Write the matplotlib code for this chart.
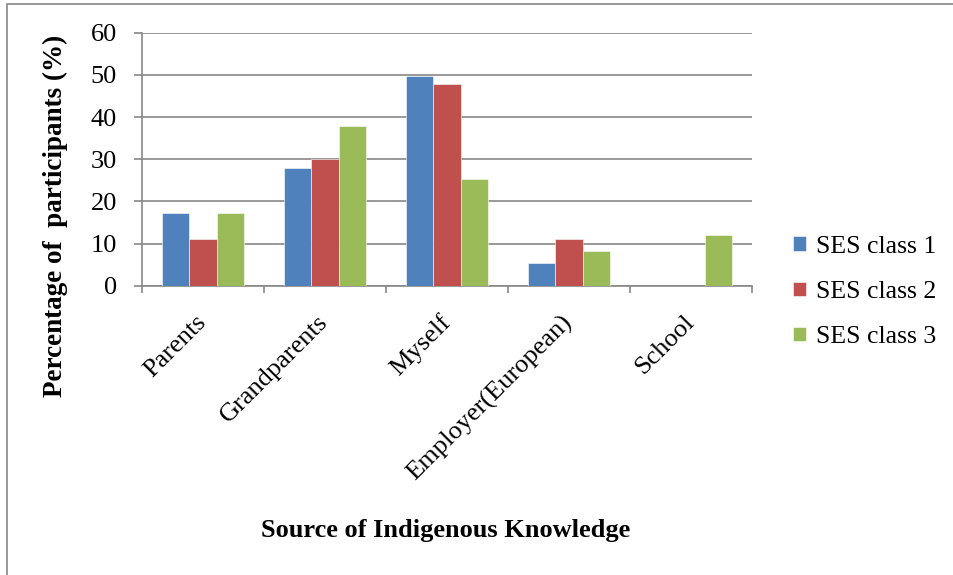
import numpy as np
import matplotlib.pyplot as plt
from matplotlib.patches import Rectangle

sources = ["Parents", "Grandparents", "Myself", "Employer(European)", "School"]
ses1 = [17.2, 28.0, 49.8, 5.4, 0]
ses2 = [11.1, 30.0, 47.9, 11.1, 0]
ses3 = [17.2, 37.9, 25.2, 8.3, 12.0]
series_names = ["SES class 1", "SES class 2", "SES class 3"]
colors = ["#4F81BD", "#C0504D", "#9BBB59"]

plt.rcParams['font.family'] = ['Liberation Serif', 'DejaVu Serif']

W, H = 954, 575
fig = plt.figure(figsize=(W / 100, H / 100), dpi=100)

# outer frame (Excel chart area), only top/left visible in the crop
fig.patches.append(Rectangle((7 / W, -0.1), 1.2, 1 - 4 / H + 0.1, transform=fig.transFigure,
                             fill=False, edgecolor="#878787", linewidth=1.2))

left, right, top, bottom = 142, 752, 32.7, 285.7
ax = fig.add_axes([left / W, 1 - bottom / H, (right - left) / W, (bottom - top) / H])

x = np.arange(len(sources))
gap = 1.5
bw = 1 / (3 + gap)
for i, (vals, name, c) in enumerate(zip([ses1, ses2, ses3], series_names, colors)):
    ax.bar(x + (i - 1) * bw, vals, width=bw, color=c, label=name,
           edgecolor="white", linewidth=0.4, zorder=3)

ax.set_xlim(-0.5, len(sources) - 0.5)
ax.set_ylim(0, 60)
ax.set_yticks(range(0, 61, 10))
ax.yaxis.grid(True, color="#878787", linewidth=1.2, zorder=0)
ax.set_axisbelow(True)

for s in ["top", "right"]:
    ax.spines[s].set_visible(False)
for s in ["left", "bottom"]:
    ax.spines[s].set_color("#878787")
    ax.spines[s].set_linewidth(1.2)

ax.tick_params(axis="y", direction="out", length=6, width=1.2, color="#878787",
               pad=12, labelsize=19)
ax.set_xticks(x)
ax.set_xticklabels(sources, rotation=45, ha="right", va="center",
                   rotation_mode="anchor", fontsize=19)
ax.tick_params(axis="x", which="major", length=0, pad=24)
ax.set_xticks(np.arange(-0.5, len(sources), 1), minor=True)
ax.tick_params(axis="x", which="minor", direction="out", length=5, width=1.2, color="#878787")

fig.text(55 / W, 1 - 216 / H, "Percentage of  participants (%)", rotation=90,
         ha="center", va="center", fontsize=19.5, fontweight="bold")
fig.text(446 / W, 1 - 530 / H, "Source of Indigenous Knowledge",
         ha="center", va="center", fontsize=19, fontweight="bold")

fig.legend(loc="center left", bbox_to_anchor=(783 / W, 1 - 292 / H), frameon=False,
           fontsize=18.5, handlelength=0.5, handleheight=0.5, handletextpad=0.4,
           labelspacing=0.9, borderaxespad=0, borderpad=0.4)

fig.savefig("out.png", dpi=100)
